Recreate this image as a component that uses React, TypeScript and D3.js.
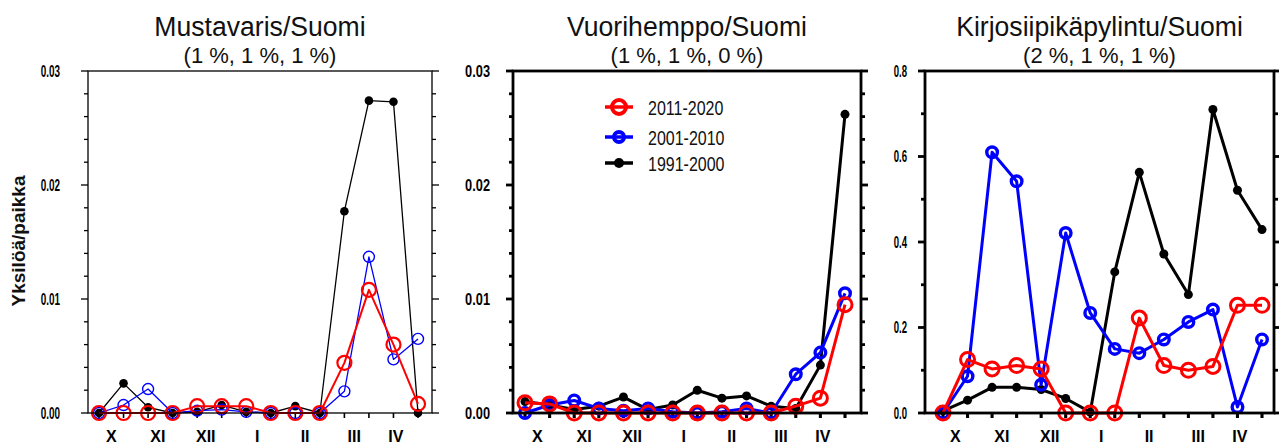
import React from "react";
import * as d3 from "d3";

// ---------- data ----------
const MONTHS = ["X", "XI", "XII", "I", "II", "III", "IV"];
const MONTH_POS = [0.5, 2.4, 4.35, 6.45, 8.4, 10.4, 12.1];
const PERIODS = ["2011-2020", "2001-2010", "1991-2000"];

const TITLES = ["Mustavaris/Suomi", "Vuorihemppo/Suomi", "Kirjosiipikäpylintu/Suomi"];
const SUBTITLES = ["(1 %, 1 %, 1 %)", "(1 %, 1 %, 0 %)", "(2 %, 1 %, 1 %)"];
const Y_LABEL = "Yksilöä/paikka";

const Y_MAX = [0.03, 0.03, 0.8];
const Y_MAJOR = [0.01, 0.01, 0.2];
const Y_MINOR = [0.002, 0.002, 0.1];

// Mustavaris
const MUSTAVARIS_2011 = [0, 0, 0, 0, 0.0006, 0.0006, 0.0006, 0, 0, 0, 0.0044, 0.0108, 0.006, 0.0008];
const MUSTAVARIS_2001 = [0, 0.0007, 0.0021, 0, 0.0002, 0.0003, 0.0001, 0, 0, 0, 0.0019, 0.0137, 0.0047, 0.0065];
const MUSTAVARIS_1991 = [0, 0.0026, 0.0005, 0, 0.0001, 0.0007, 0.0001, 0, 0.0006, 0, 0.0177, 0.0274, 0.0273, 0];

// Vuorihemppo
const VUORIHEMPPO_2011 = [0.0009, 0.0008, 0, 0, 0, 0, 0, 0, 0, 0, 0, 0.0006, 0.0013, 0.0095];
const VUORIHEMPPO_2001 = [0, 0.0007, 0.0011, 0.0004, 0.0002, 0.0004, 0.0001, 0, 0.0001, 0.0004, 0, 0.0034, 0.0053, 0.0105];
const VUORIHEMPPO_1991 = [0.001, 0.0007, 0.0003, 0.0006, 0.0014, 0.0003, 0.0007, 0.002, 0.0013, 0.0015, 0.0006, 0.0004, 0.0042, 0.0262];

// Kirjosiipikäpylintu
const KIRJO_2011 = [0, 0.125, 0.103, 0.111, 0.103, 0, 0, 0, 0.222, 0.111, 0.1, 0.109, 0.252, 0.252];
const KIRJO_2001 = [0, 0.086, 0.61, 0.542, 0.066, 0.421, 0.234, 0.15, 0.14, 0.172, 0.213, 0.242, 0.014, 0.172];
const KIRJO_1991 = [0.005, 0.03, 0.06, 0.06, 0.055, 0.034, 0.002, 0.33, 0.563, 0.372, 0.277, 0.71, 0.521, 0.429];

const PANEL_DATA = [
  [MUSTAVARIS_2011, MUSTAVARIS_2001, MUSTAVARIS_1991],
  [VUORIHEMPPO_2011, VUORIHEMPPO_2001, VUORIHEMPPO_1991],
  [KIRJO_2011, KIRJO_2001, KIRJO_1991],
];

// ---------- layout / style ----------
const COLORS = ["#ff0000", "#0000ff", "#000000"];
const FONT = "'Liberation Sans', Arial, Helvetica, sans-serif";

type Layout = {
  left: number; right: number; x0: number; x13: number; top: number; bottom: number;
  thick: boolean; labelGap: number; labelScale: number; fmt: string;
};

const LAYOUTS: Layout[] = [
  { left: 88, right: 432, x0: 99, x13: 418, top: 71, bottom: 413, thick: false, labelGap: 28, labelScale: 0.62, fmt: ".2f" },
  { left: 513, right: 861, x0: 525, x13: 845, top: 71, bottom: 413, thick: true, labelGap: 23, labelScale: 0.8, fmt: ".2f" },
  { left: 925, right: 1274, x0: 943, x13: 1262, top: 71, bottom: 413, thick: true, labelGap: 18, labelScale: 0.6, fmt: ".1f" },
];

function Panel({ idx }: { idx: number }) {
  const L = LAYOUTS[idx];
  const series = PANEL_DATA[idx];
  const x = d3.scaleLinear().domain([0, 13]).range([L.x0, L.x13]);
  const y = d3.scaleLinear().domain([0, Y_MAX[idx]]).range([L.bottom, L.top]);
  const fsw = L.thick ? 2.8 : 1.3;
  const majors = d3.range(0, Y_MAX[idx] + 1e-9, Y_MAJOR[idx]);
  const minors = d3.range(0, Y_MAX[idx] + 1e-9, Y_MINOR[idx]);
  const fmt = d3.format(L.fmt);
  const idxs = d3.range(14);

  const lineW = L.thick ? [3, 3, 3] : [2, 1.3, 1.3];
  const markR = L.thick ? [7, 5.3, 4.5] : [7, 5.5, 4.3];
  const markSW = L.thick ? [3, 3.4, 0] : [2.2, 1.4, 0];

  const line = d3.line<number>().x((_, i) => x(i)).y((d) => y(d));
  const cx = (L.left + L.right) / 2;
  const order = [2, 1, 0];

  return (
    <g>
      {/* title */}
      <text transform={`translate(${cx},36) scale(0.95,1)`} textAnchor="middle" fontSize={28} fontFamily={FONT} fill="#111">
        {TITLES[idx]}
      </text>
      <text transform={`translate(${cx},63)`} textAnchor="middle" fontSize={22} fontFamily={FONT} fill="#111">
        {SUBTITLES[idx]}
      </text>

      {/* y ticks */}
      {minors.map((v, i) => {
        const isMajor = Math.abs(v / Y_MAJOR[idx] - Math.round(v / Y_MAJOR[idx])) < 1e-6;
        const len = isMajor ? 7 : 4;
        return (
          <g key={"yt" + i} stroke="#000" strokeWidth={fsw}>
            <line x1={L.left - len} x2={L.left} y1={y(v)} y2={y(v)} />
            <line x1={L.right} x2={L.right + len} y1={y(v)} y2={y(v)} />
          </g>
        );
      })}
      {majors.map((v, i) => (
        <text key={"yl" + i} transform={`translate(${L.left - L.labelGap},${y(v)}) scale(${L.labelScale},1)`}
          textAnchor="end" dy="0.36em" fontSize={16} fontWeight="bold" fontFamily={FONT} fill="#000">
          {fmt(v)}
        </text>
      ))}

      {/* x ticks */}
      {idxs.map((i) => (
        <line key={"xt" + i} x1={x(i)} x2={x(i)} y1={L.bottom} y2={L.bottom + 5} stroke="#000" strokeWidth={fsw + 0.3} />
      ))}
      {MONTHS.map((m, i) => (
        <text key={"xl" + i} x={x(MONTH_POS[i])} y={441.5} textAnchor="middle" fontSize={16} fontWeight="bold" fontFamily={FONT} fill="#000">
          {m}
        </text>
      ))}

      {/* series */}
      {order.map((s) => (
        <g key={"s" + s}>
          <path d={line(series[s]) || ""} fill="none" stroke={COLORS[s]} strokeWidth={lineW[s]} strokeLinejoin="round" />
          {series[s].map((v, i) =>
            s === 2 ? (
              <circle key={i} cx={x(i)} cy={y(v)} r={markR[s]} fill={COLORS[s]} />
            ) : (
              <circle key={i} cx={x(i)} cy={y(v)} r={markR[s]} fill="none" stroke={COLORS[s]} strokeWidth={markSW[s]} />
            )
          )}
        </g>
      ))}

      {/* frame */}
      <rect x={L.left} y={L.top} width={L.right - L.left} height={L.bottom - L.top} fill="none" stroke="#000" strokeWidth={fsw} />
    </g>
  );
}

function Legend() {
  const rows = [107, 137, 163];
  const lx1 = 605, lx2 = 633, mx = 619, tx = 648;
  return (
    <g>
      {PERIODS.map((p, i) => (
        <g key={p}>
          <line x1={lx1} x2={lx2} y1={rows[i]} y2={rows[i]} stroke={COLORS[i]} strokeWidth={3.5} />
          {i === 2 ? (
            <circle cx={mx} cy={rows[i]} r={5} fill={COLORS[i]} />
          ) : (
            <circle cx={mx} cy={rows[i]} r={i === 0 ? 7 : 5} fill="none" stroke={COLORS[i]} strokeWidth={4} />
          )}
          <text transform={`translate(${tx},${rows[i] + 7.5}) scale(0.8,1)`} fontSize={20} fontFamily={FONT} fill="#111">
            {p}
          </text>
        </g>
      ))}
    </g>
  );
}

export default function App() {
  return (
    <svg width={1279} height={443} style={{ position: "absolute", left: 0, top: 0, background: "#fff" }}>
      <rect width={1279} height={443} fill="#fff" />
      <text transform="translate(25,241) rotate(-90)" textAnchor="middle" fontSize={19} fontWeight="bold" fontFamily={FONT} fill="#111">
        {Y_LABEL}
      </text>
      {[0, 1, 2].map((i) => (
        <Panel key={i} idx={i} />
      ))}
      <Legend />
    </svg>
  );
}
